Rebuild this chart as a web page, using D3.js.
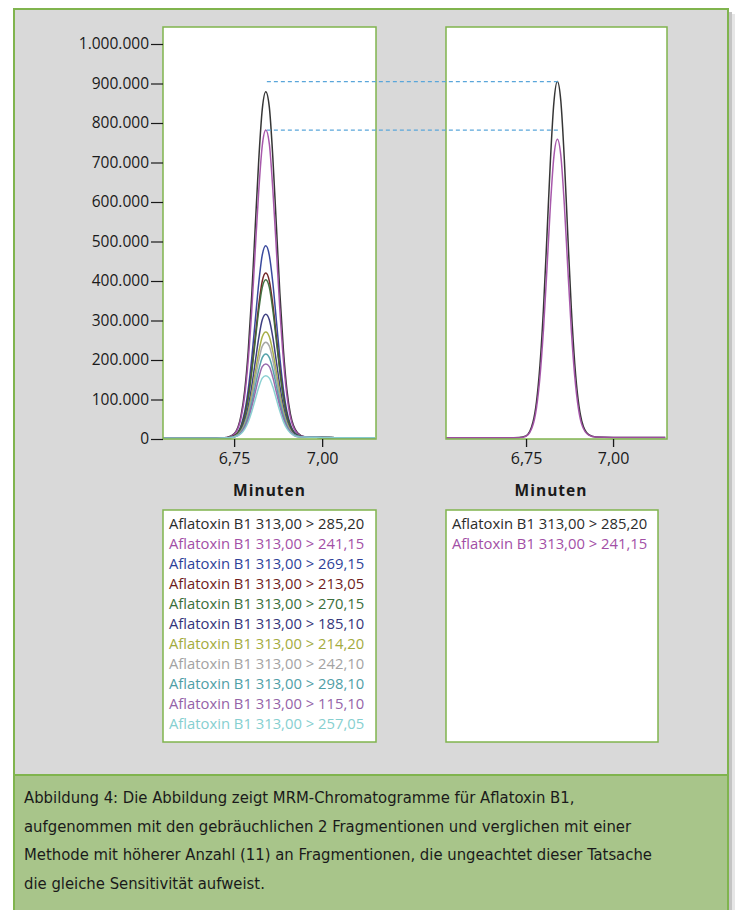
<!DOCTYPE html>
<html>
<head>
<meta charset="utf-8">
<script src="https://cdn.jsdelivr.net/npm/d3@7"></script>
<style>
  html, body { margin: 0; padding: 0; background: #ffffff; }
  svg { display: block; }
  .tick text { font-family: "Open Sans", "Noto Sans", sans-serif; fill: #1a1a1a; }
</style>
</head>
<body>
<svg id="chart" width="736" height="910"></svg>
<script>
// Retention time (minutes) at which every MRM trace is sampled
const times = [6.52, 6.60, 6.65, 6.70, 6.73, 6.75, 6.77, 6.78, 6.79, 6.80, 6.81, 6.82, 6.83, 6.84,
               6.85, 6.86, 6.87, 6.88, 6.89, 6.90, 6.91, 6.93, 6.95, 7.00, 7.05, 7.10, 7.15];

// Transitions of the 11-ion method (left) and the 2-ion method (right)
const fragmentsLeft = ["285,20", "241,15", "269,15", "213,05", "270,15", "185,10",
                       "214,20", "242,10", "298,10", "115,10", "257,05"];
const fragmentsRight = ["285,20", "241,15"];

const colorsLeft = ["#2b2b2b", "#a24fa6", "#2e3f98", "#6e1c1c", "#3b6e3b", "#34357a",
                    "#a3ab3e", "#a3a3a3", "#4f9ea6", "#9463a8", "#86cfd0"];
const colorsRight = ["#2b2b2b", "#a24fa6"];

// Intensities in thousands of counts, one array per transition (11-ion method)
const left28520 = [2,2,2,2,4,13,61,122,222,364,537,707,835,879,840,712,541,368,226,124,63,16,6,4,3,3,3];
const left24115 = [2,2,2,2,4,12,55,109,198,324,478,629,743,782,747,631,480,326,200,110,55,14,6,4,3,3,3];
const left26915 = [2,2,2,2,3,8,35,69,125,204,300,395,466,489,465,395,300,205,126,70,36,10,5,4,3,3,3];
const left21305 = [2,2,2,2,3,8,31,60,108,176,258,339,400,420,400,340,259,177,108,61,32,9,5,4,3,3,3];
const left27015 = [2,2,2,2,3,7,30,57,103,169,248,326,384,403,384,326,248,170,104,58,31,9,5,4,3,3,3];
const left18510 = [2,2,2,2,3,6,24,46,82,133,195,256,302,316,302,257,196,134,83,47,25,8,5,4,3,3,3];
const left21420 = [2,2,2,2,3,6,21,40,70,114,168,220,259,271,259,221,169,115,71,41,22,7,5,4,3,3,3];
const left24210 = [2,2,2,2,3,6,19,36,64,104,152,199,235,245,235,200,153,105,65,37,20,7,5,4,3,3,3];
const left29810 = [2,2,2,2,3,5,17,32,57,91,134,175,206,215,206,176,135,92,58,33,18,7,5,4,3,3,3];
const left11510 = [2,2,2,2,3,5,16,29,50,81,118,155,183,190,183,156,119,82,51,30,17,6,5,4,3,3,3];
const left25705 = [2,2,2,2,3,5,14,25,43,69,100,131,154,160,154,132,101,70,44,26,15,6,5,4,3,3,3];

// Intensities in thousands of counts (2-ion method)
const right28520 = [3,3,3,3,4,8,43,94,187,329,513,705,852,905,855,708,516,332,190,97,46,11,5,4,4,4,4];
const right24115 = [3,3,3,3,3,7,36,79,157,276,430,591,715,759,717,593,432,277,158,80,37,10,5,4,4,4,4];

const seriesLeft = [left28520, left24115, left26915, left21305, left27015, left18510,
                    left21420, left24210, left29810, left11510, left25705];
const seriesRight = [right28520, right24115];

// Peak-height guides: level (thousands), start time in left panel, end time in right panel
const guideLevels = [905, 782];
const guideStart = [6.843, 6.843];
const guideEnd = [6.846, 6.850];

const yTicks = [0, 100, 200, 300, 400, 500, 600, 700, 800, 900, 1000];
const xTicks = [6.75, 7.00];

const captionLines = [
  "Abbildung 4: Die Abbildung zeigt MRM-Chromatogramme für Aflatoxin B1,",
  "aufgenommen mit den gebräuchlichen 2 Fragmentionen und verglichen mit einer",
  "Methode mit höherer Anzahl (11) an Fragmentionen, die ungeachtet dieser Tatsache",
  "die gleiche Sensitivität aufweist."
];

// ---------------------------------------------------------------------------
const svg = d3.select("#chart");
const de = d3.formatLocale({ decimal: ",", thousands: ".", grouping: [3], currency: ["", " €"] });

const green = "#80b44e";

// page frame with drop shadow
svg.append("rect").attr("x", 729).attr("y", 12).attr("width", 3).attr("height", 900).attr("fill", "#c4c4c4");
svg.append("rect").attr("x", 732).attr("y", 14).attr("width", 3).attr("height", 900).attr("fill", "#e6e6e6");
svg.append("rect").attr("x", 14).attr("y", 9).attr("width", 714).attr("height", 920)
  .attr("fill", "#d9d9d9").attr("stroke", green).attr("stroke-width", 2);
svg.append("rect").attr("x", 14).attr("y", 775).attr("width", 714).attr("height", 150)
  .attr("fill", "#a8c58a").attr("stroke", green).attr("stroke-width", 2);

// shared intensity scale
const plotTop = 27, plotBottom = 439;
const y = d3.scaleLinear().domain([0, 1000]).range([439, 44]);

const panels = [
  { x0: 163, x1: 376, domain: [6.548, 7.153], series: seriesLeft, colors: colorsLeft,
    names: fragmentsLeft, legend: { x: 163, w: 213, textX: 169 }, labelX: 269.5 },
  { x0: 446, x1: 667, domain: [6.520, 7.155], series: seriesRight, colors: colorsRight,
    names: fragmentsRight, legend: { x: 446, w: 212, textX: 452 }, labelX: 551 }
];

panels.forEach((p, i) => {
  p.x = d3.scaleLinear().domain(p.domain).range([p.x0, p.x1]);
  const g = svg.append("g");

  g.append("rect").attr("x", p.x0).attr("y", plotTop).attr("width", p.x1 - p.x0)
    .attr("height", plotBottom - plotTop).attr("fill", "#ffffff");

  const clipId = "clip" + i;
  svg.append("clipPath").attr("id", clipId).append("rect")
    .attr("x", p.x0).attr("y", plotTop).attr("width", p.x1 - p.x0).attr("height", plotBottom - plotTop);

  const line = d3.line().x((d, k) => p.x(times[k])).y(d => y(d)).curve(d3.curveMonotoneX);
  g.append("g").attr("clip-path", `url(#${clipId})`)
    .selectAll("path").data(p.series).join("path")
    .attr("d", d => line(d))
    .attr("fill", "none")
    .attr("stroke", (d, k) => p.colors[k])
    .attr("stroke-width", 1.5)
    .attr("stroke-linejoin", "round")
    .attr("opacity", 0.95);

  g.append("rect").attr("x", p.x0).attr("y", plotTop).attr("width", p.x1 - p.x0)
    .attr("height", plotBottom - plotTop).attr("fill", "none").attr("stroke", green).attr("stroke-width", 1.5);

  // time axis
  const xa = g.append("g").attr("transform", `translate(0,${plotBottom})`)
    .call(d3.axisBottom(p.x).tickValues(xTicks).tickSize(8).tickPadding(6).tickFormat(de.format(".2f")));
  xa.select(".domain").remove();
  xa.selectAll(".tick line").attr("stroke", "#1a1a1a").attr("stroke-width", 1.3);
  xa.selectAll(".tick text").attr("font-size", 16);

  g.append("text").attr("x", p.labelX).attr("y", 496).attr("text-anchor", "middle")
    .attr("font-family", "'Open Sans', 'Noto Sans', sans-serif").attr("font-weight", 700)
    .attr("font-size", 15.5).attr("letter-spacing", 1).attr("fill", "#1a1a1a").text("Minuten");

  // legend box
  g.append("rect").attr("x", p.legend.x).attr("y", 510).attr("width", p.legend.w).attr("height", 232)
    .attr("fill", "#ffffff").attr("stroke", green).attr("stroke-width", 1.5);
  g.selectAll("text.legend").data(p.names).join("text")
    .attr("class", "legend")
    .attr("x", p.legend.textX).attr("y", (d, k) => 529 + k * 20)
    .attr("font-family", "'Open Sans', 'Noto Sans', sans-serif").attr("font-size", 14.8)
    .attr("fill", (d, k) => p.colors[k])
    .text(d => `Aflatoxin B1 313,00 > ${d}`);
});

// intensity axis on the left panel
const ya = svg.append("g").attr("transform", `translate(${panels[0].x0},0)`)
  .call(d3.axisLeft(y).tickValues(yTicks).tickSize(12).tickPadding(2)
    .tickFormat(d => de.format(",")(d * 1000)));
ya.select(".domain").remove();
ya.selectAll(".tick line").attr("stroke", "#1a1a1a").attr("stroke-width", 1.2);
ya.selectAll(".tick text").attr("font-size", 15.5);

// dashed peak-height guides linking the two panels
svg.append("g").selectAll("line").data(guideLevels).join("line")
  .attr("x1", (d, k) => panels[0].x(guideStart[k]))
  .attr("x2", (d, k) => panels[1].x(guideEnd[k]))
  .attr("y1", d => y(d)).attr("y2", d => y(d))
  .attr("stroke", "#5aa6da").attr("stroke-width", 1.2).attr("stroke-dasharray", "4,3");

// caption
svg.append("g").selectAll("text").data(captionLines).join("text")
  .attr("x", 24).attr("y", (d, k) => 803 + k * 28.5)
  .attr("font-family", "'DejaVu Sans Condensed', 'Liberation Sans Narrow', 'DejaVu Sans', sans-serif")
  .attr("font-stretch", "condensed")
  .attr("font-size", 16.5).attr("fill", "#1a1a1a")
  .text(d => d);
</script>
</body>
</html>
